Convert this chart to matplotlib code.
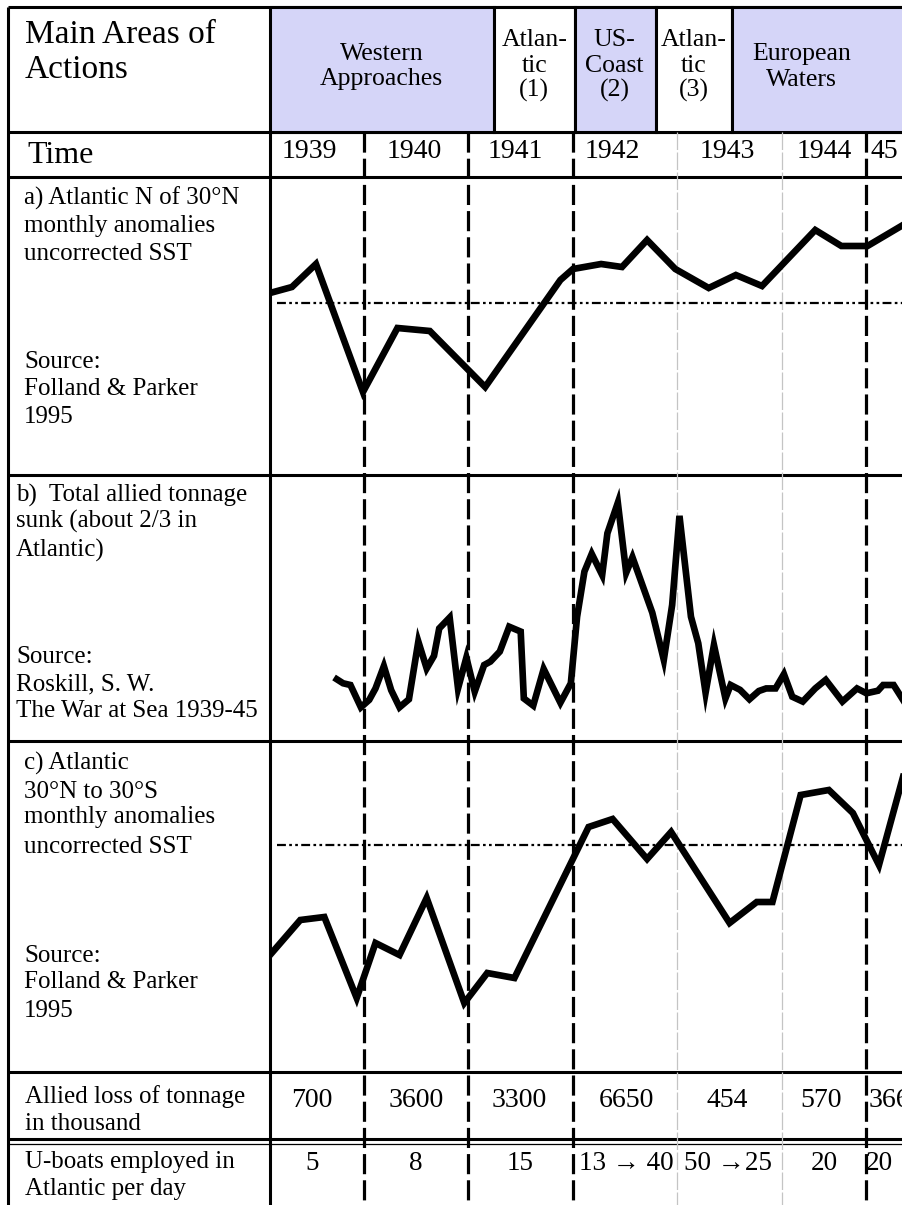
import matplotlib.pyplot as plt
from matplotlib.patches import Rectangle

# ---------------- values ----------------
time_range = (1939.10, 1945.16)

area_names = ['Western\nApproaches', 'Atlan-\ntic\n(1)', 'US-\nCoast\n(2)',
              'Atlan-\ntic\n(3)', 'European\nWaters']
area_bounds = [1939.10, 1941.24, 1942.02, 1942.80, 1943.52, 1945.40]
area_label_x = [1940.17, 1941.63, 1942.40, 1943.16, 1944.19]
area_shaded = [True, False, True, False, True]

years = ['1939', '1940', '1941', '1942', '1943', '1944', '45']
year_x = [1939.48, 1940.48, 1941.45, 1942.38, 1943.48, 1944.41, 1944.98]
phase_lines = [1940.0, 1941.0, 1942.0, 1944.81]
year_lines = [1943.0, 1944.0]

# a) Atlantic N of 30N, SST anomaly
sst_n_time = [1939.10, 1939.31, 1939.54, 1939.99, 1940.32, 1940.63, 1941.16,
              1941.88, 1942.00, 1942.27, 1942.47, 1942.71, 1942.98, 1943.30,
              1943.56, 1943.81, 1944.32, 1944.57, 1944.82, 1945.16]
sst_n_anom = [0.10, 0.16, 0.39, -0.89, -0.25, -0.28, -0.84,
              0.23, 0.34, 0.39, 0.36, 0.63, 0.34, 0.15,
              0.28, 0.17, 0.73, 0.57, 0.57, 0.78]

# b) total allied tonnage sunk per month (thousand tons)
sunk_time = [1939.74, 1939.80, 1939.87, 1939.97, 1940.05, 1940.11, 1940.19,
             1940.26, 1940.34, 1940.43, 1940.52, 1940.60, 1940.67, 1940.72,
             1940.82, 1940.90, 1940.98, 1941.06, 1941.15, 1941.21, 1941.30,
             1941.39, 1941.50, 1941.53, 1941.62, 1941.72, 1941.88, 1941.98,
             1942.04, 1942.11, 1942.18, 1942.28, 1942.33, 1942.43, 1942.51,
             1942.57, 1942.76, 1942.87, 1942.95, 1943.02, 1943.13, 1943.20,
             1943.27, 1943.35, 1943.46, 1943.51, 1943.60, 1943.69, 1943.78,
             1943.85, 1943.94, 1944.02, 1944.10, 1944.20, 1944.32, 1944.42,
             1944.58, 1944.72, 1944.81, 1944.92, 1944.97, 1945.07, 1945.16]
sunk_tons = [216, 202, 196, 118, 144, 184, 262,
             178, 118, 146, 348, 254, 298, 394,
             432, 184, 292, 173, 266, 278, 313,
             400, 383, 149, 124, 252, 134, 202,
             435, 593, 655, 581, 727, 834, 589,
             643, 449, 284, 476, 788, 435, 342,
             169, 336, 149, 196, 179, 146, 175,
             184, 184, 234, 155, 138, 184, 214,
             138, 184, 167, 176, 196, 196, 144]

# c) Atlantic 30N to 30S, SST anomaly
sst_t_time = [1939.10, 1939.39, 1939.62, 1939.93, 1940.11, 1940.34, 1940.60,
              1940.96, 1941.18, 1941.44, 1942.15, 1942.38, 1942.71, 1942.94,
              1943.50, 1943.76, 1943.91, 1944.18, 1944.45, 1944.68, 1944.93,
              1945.16]
sst_t_anom = [-1.10, -0.75, -0.72, -1.53, -0.98, -1.10, -0.53,
              -1.58, -1.28, -1.33, 0.18, 0.26, -0.14, 0.13,
              -0.78, -0.57, -0.57, 0.50, 0.55, 0.32, -0.20,
              0.68]

loss_labels = ['700', '3600', '3300', '6650', '454', '570']
loss_x = [1939.50, 1940.50, 1941.49, 1942.51, 1943.48, 1944.38]
loss_last = '366'
loss_last_x = 1944.83

uboat_labels = ['5', '8', '15', '13 \u2192 40', '50 \u219225', '20', '20']
uboat_x = [1939.50, 1940.50, 1941.49, 1942.51, 1943.48, 1944.41, 1944.93]

# ---------------- figure ----------------
W, H = 903, 1205
plt.rcParams['font.family'] = ['Liberation Serif', 'DejaVu Serif']
fig = plt.figure(figsize=(W / 100, H / 100), dpi=100)


def px_axes(x0, y0, x1, y1):
    ax = fig.add_axes([x0 / W, 1 - y1 / H, (x1 - x0) / W, (y1 - y0) / H])
    ax.axis('off')
    return ax


bg = px_axes(0, 0, W, H)
bg.set_xlim(0, W)
bg.set_ylim(H, 0)

ov = px_axes(270, 0, W, H)
ov.set_xlim(*time_range)
ov.set_ylim(H, 0)

# header cells
lavender = '#d5d5f8'
for i, name in enumerate(area_names):
    t0, t1 = area_bounds[i], area_bounds[i + 1]
    ov.add_patch(Rectangle((t0, 7), t1 - t0, 125, facecolor=lavender if area_shaded[i] else 'white',
                           edgecolor='black', lw=2.2))
    lines = name.split('\n')
    y0 = 60 if len(lines) == 2 else 46
    for k, s in enumerate(lines):
        ov.text(area_label_x[i], y0 + 25.5 * k, s, ha='center', va='baseline', fontsize=18.5)

# table frame
bg.vlines([8, 270], 7, H, colors='black', lw=2.2)
bg.hlines([7, 132, 177, 475, 741, 1072, 1139], 8, W, colors='black', lw=2.2)
bg.hlines([1143.5], 8, W, colors='black', lw=0.9)

# time divisions
ov.vlines(year_lines, 132, H, colors='#c4c4c4', lw=0.9, linestyles=(0, (14, 2)))
ov.vlines(phase_lines, 132, H, colors='black', lw=2.3, linestyles=(0, (6.3, 1.9)))

# left column texts
bg.text(25, 43, 'Main Areas of', fontsize=24, va='baseline')
bg.text(25, 78, 'Actions', fontsize=24, va='baseline')
bg.text(27, 163, 'Time', fontsize=23, va='baseline')

left_blocks = [
    (24, [205, 232, 260], ['a) Atlantic N of 30\u00b0N', 'monthly anomalies', 'uncorrected SST']),
    (24, [368, 395, 423], ['Source:', 'Folland & Parker', '1995']),
    (16, [502, 528, 557], ['b)  Total allied tonnage', 'sunk (about 2/3 in', 'Atlantic)']),
    (16, [663, 690, 717], ['Source:', 'Roskill, S. W.', 'The War at Sea 1939-45']),
    (24, [770, 798, 823, 853], ['c) Atlantic', '30\u00b0N to 30\u00b0S', 'monthly anomalies',
                                'uncorrected SST']),
    (24, [962, 988, 1017], ['Source:', 'Folland & Parker', '1995']),
    (25, [1103, 1130], ['Allied loss of tonnage', 'in thousand']),
    (25, [1168, 1195], ['U-boats employed in', 'Atlantic per day']),
]
for x, ys, texts in left_blocks:
    for y, s in zip(ys, texts):
        bg.text(x, y, s, fontsize=18, va='baseline')

# row values
for s, x in zip(years, year_x):
    ov.text(x, 158, s, ha='center', va='baseline', fontsize=20)
for s, x in zip(loss_labels, loss_x):
    ov.text(x, 1107, s, ha='center', va='baseline', fontsize=20)
ov.text(loss_last_x, 1107, loss_last, ha='left', va='baseline', fontsize=20, clip_on=True)
for s, x in zip(uboat_labels, uboat_x):
    ov.text(x, 1170, s, ha='center', va='baseline', fontsize=19.5)

# panels
dotted = (0, (4, 1.5, 1.2, 1.5, 1.2, 1.5))

pa = px_axes(270, 177, W, 475)
pa.set_xlim(*time_range)
pa.set_ylim(-1.72, 1.26)
pa.axhline(0, xmin=0.011, color='black', lw=1.6, linestyle=dotted)
pa.plot(sst_n_time, sst_n_anom, color='black', lw=4.8, solid_joinstyle='miter')

pb = px_axes(270, 475, W, 741)
pb.set_xlim(*time_range)
pb.set_ylim(0, 931)
pb.plot(sunk_time, sunk_tons, color='black', lw=4.8, solid_joinstyle='miter')

pc = px_axes(270, 741, W, 1072)
pc.set_xlim(*time_range)
pc.set_ylim(-2.27, 1.04)
pc.axhline(0, xmin=0.011, color='black', lw=1.6, linestyle=dotted)
pc.plot(sst_t_time, sst_t_anom, color='black', lw=4.8, solid_joinstyle='miter')

fig.savefig('out.png', dpi=100)
